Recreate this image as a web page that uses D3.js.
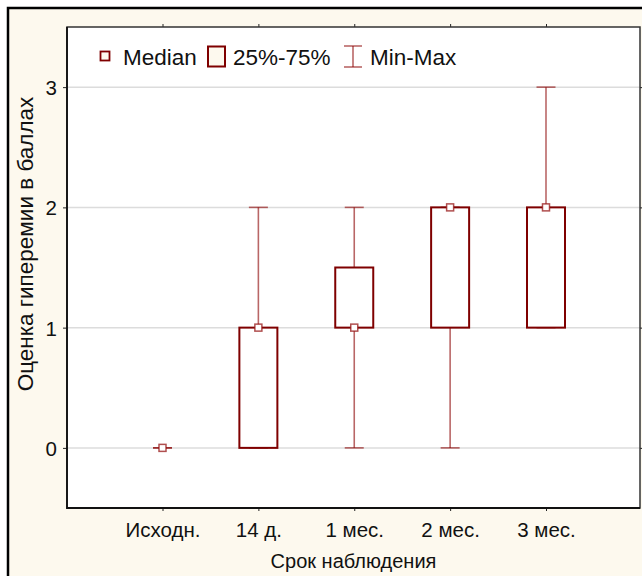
<!DOCTYPE html>
<html>
<head>
<meta charset="utf-8">
<script src="https://cdn.jsdelivr.net/npm/d3@7"></script>
<style>
  html, body { margin: 0; padding: 0; background: #fff; }
  svg { display: block; font-family: "Liberation Sans", Arial, sans-serif; }
</style>
</head>
<body>
<svg id="chart" width="642" height="576"></svg>
<script>
// Observation periods and box-plot statistics (score in points)
const categories = ["Исходн.", "14 д.", "1 мес.", "2 мес.", "3 мес."];
const medians = [0, 1, 1, 2, 2];
const q1 = [0, 0, 1, 1, 1];
const q3 = [0, 1, 1.5, 2, 2];
const mins = [0, 0, 0, 0, 1];
const maxs = [0, 2, 2, 2, 3];
const yTicks = [0, 1, 2, 3];

const xTitle = "Срок наблюдения";
const yTitle = "Оценка гиперемии в баллах";
const legendLabels = ["Median", "25%-75%", "Min-Max"];

const data = categories.map((c, i) => ({
  cat: c, median: medians[i], q1: q1[i], q3: q3[i], min: mins[i], max: maxs[i]
}));

const svg = d3.select("#chart");
const plot = { left: 67, right: 640, top: 27, bottom: 508 };

const boxColor = "#7f0000";
const whiskerColor = "rgba(139,0,0,0.6)";
const cream = "#fdf9ee";

// Outer frame with cream fill
svg.append("rect")
  .attr("x", 8).attr("y", 8).attr("width", 660).attr("height", 600)
  .attr("fill", cream).attr("stroke", "#000").attr("stroke-width", 2.5);

const x = d3.scalePoint().domain(categories).range([162.5, 546]);
const y = d3.scaleLinear().domain([-0.5, 3.5]).range([plot.bottom, plot.top]);

// Plot area
svg.append("rect")
  .attr("x", plot.left).attr("y", plot.top)
  .attr("width", plot.right - plot.left).attr("height", plot.bottom - plot.top)
  .attr("fill", "#fff");

// Horizontal gridlines
svg.append("g").selectAll("line").data(yTicks).join("line")
  .attr("x1", plot.left).attr("x2", plot.right)
  .attr("y1", d => y(d)).attr("y2", d => y(d))
  .attr("stroke", "#dcdcdc").attr("stroke-width", 1.5);

// Axes
const axisLeft = d3.axisLeft(y).tickValues(yTicks).tickSize(4).tickPadding(6).tickFormat(d3.format("d"));
const axisRight = d3.axisRight(y).tickValues(yTicks).tickSize(3).tickFormat("");
const axisBottom = d3.axisBottom(x).tickSize(3).tickPadding(11);
const axisTop = d3.axisTop(x).tickSize(3).tickFormat("");

function styleAxis(g) {
  g.select(".domain").remove();
  g.selectAll(".tick line").attr("stroke", "#222").attr("stroke-width", 1);
  g.selectAll(".tick text").attr("fill", "#111").style("font-size", "20.5px")
    .attr("font-family", "Liberation Sans, Arial, sans-serif");
}

svg.append("g").attr("transform", `translate(${plot.left},0)`).call(axisLeft).call(styleAxis)
  .selectAll(".tick text").attr("dy", "0.36em");
svg.append("g").attr("transform", `translate(${plot.right},0)`).call(axisRight).call(styleAxis);
svg.append("g").attr("transform", `translate(0,${plot.bottom})`).call(axisBottom).call(styleAxis);
svg.append("g").attr("transform", `translate(0,${plot.top})`).call(axisTop).call(styleAxis);

// Plot border
svg.append("rect")
  .attr("x", plot.left).attr("y", plot.top)
  .attr("width", plot.right - plot.left).attr("height", plot.bottom - plot.top)
  .attr("fill", "none").attr("stroke", "#333").attr("stroke-width", 1.5);
svg.append("path")
  .attr("d", `M${plot.left},${plot.top}V${plot.bottom}H${plot.right}`)
  .attr("fill", "none").attr("stroke", "#111").attr("stroke-width", 1.8);

const boxW = 38, capW = 19, medS = 7;

const groups = svg.append("g").selectAll("g").data(data).join("g")
  .attr("transform", d => `translate(${x(d.cat)},0)`);

// Whiskers
groups.append("line")
  .attr("x1", 0).attr("x2", 0)
  .attr("y1", d => y(d.min)).attr("y2", d => y(d.max))
  .attr("stroke", whiskerColor).attr("stroke-width", 1.6);
groups.append("line")
  .attr("x1", -capW / 2).attr("x2", capW / 2)
  .attr("y1", d => y(d.min)).attr("y2", d => y(d.min))
  .attr("stroke", whiskerColor).attr("stroke-width", 1.6);
groups.append("line")
  .attr("x1", -capW / 2).attr("x2", capW / 2)
  .attr("y1", d => y(d.max)).attr("y2", d => y(d.max))
  .attr("stroke", whiskerColor).attr("stroke-width", 1.6);

// Interquartile boxes (omitted where the box has no height)
groups.filter(d => d.q3 > d.q1).append("rect")
  .attr("x", -boxW / 2).attr("width", boxW)
  .attr("y", d => y(d.q3)).attr("height", d => y(d.q1) - y(d.q3))
  .attr("fill", "#fff").attr("stroke", boxColor).attr("stroke-width", 2);

// Median markers
groups.append("rect")
  .attr("x", -medS / 2).attr("width", medS)
  .attr("y", d => y(d.median) - medS / 2).attr("height", medS)
  .attr("fill", "#fff").attr("stroke", "rgba(150,20,20,0.75)").attr("stroke-width", 1.5);

// Legend
const leg = svg.append("g");
leg.append("rect").attr("x", 100.5).attr("y", 51.5).attr("width", 9).attr("height", 9)
  .attr("fill", cream).attr("stroke", boxColor).attr("stroke-width", 1.8);
leg.append("text").attr("x", 123).attr("y", 65).text(legendLabels[0]);
leg.append("rect").attr("x", 208).attr("y", 46.5).attr("width", 17).attr("height", 20)
  .attr("fill", cream).attr("stroke", boxColor).attr("stroke-width", 2);
leg.append("text").attr("x", 233).attr("y", 65).text(legendLabels[1]);
leg.append("line").attr("x1", 353).attr("x2", 353).attr("y1", 46).attr("y2", 67)
  .attr("stroke", whiskerColor).attr("stroke-width", 1.6);
leg.append("line").attr("x1", 344).attr("x2", 362).attr("y1", 46).attr("y2", 46)
  .attr("stroke", whiskerColor).attr("stroke-width", 1.6);
leg.append("line").attr("x1", 344).attr("x2", 362).attr("y1", 67).attr("y2", 67)
  .attr("stroke", whiskerColor).attr("stroke-width", 1.6);
leg.append("text").attr("x", 370).attr("y", 65).text(legendLabels[2]);
leg.selectAll("text").attr("fill", "#111").style("font-size", "22.5px");

// Axis titles
svg.append("text")
  .attr("x", (plot.left + plot.right) / 2).attr("y", 568)
  .attr("text-anchor", "middle").attr("fill", "#111").style("font-size", "20px")
  .text(xTitle);
svg.append("text")
  .attr("transform", "translate(33,244) rotate(-90)")
  .attr("text-anchor", "middle").attr("fill", "#111").style("font-size", "22.5px")
  .text(yTitle);
</script>
</body>
</html>
